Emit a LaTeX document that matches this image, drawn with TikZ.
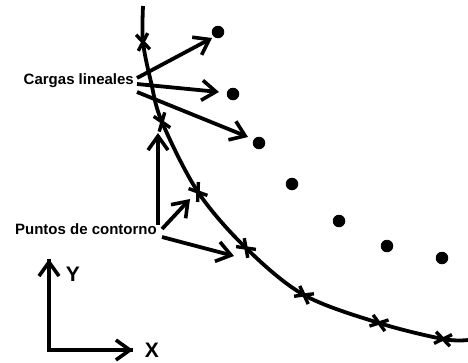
\documentclass[tikz,border=0pt]{standalone}
\usepackage{fontspec}
\setmainfont{Liberation Sans}
\usetikzlibrary{arrows.meta}
\tikzset{
  thickline/.style={line width=3.8pt},
  arr/.style={thickline,-{Straight Barb[length=14pt,width=20pt,line width=3.6pt]}},
  charge/.style={circle,fill=black,inner sep=0pt,minimum size=12.5pt},
  lbl/.style={font=\bfseries\fontsize{15}{17}\selectfont,inner sep=0pt},
  axlbl/.style={font=\bfseries\fontsize{21}{23}\selectfont,inner sep=0pt},
  crossmark/.style={line width=3.4pt}
}
\newcommand\crossmk[2]{%
  \draw[crossmark] (#1) ++(#2+36:10) -- ++(#2+216:20);
  \draw[crossmark] (#1) ++(#2-36:10) -- ++(#2+144:20);
}
\begin{document}
\begin{tikzpicture}[x=1pt,y=-1pt]
\useasboundingbox (0,0) rectangle (468,362);
% boundary curve
\coordinate (p1) at (143,42);
\coordinate (p2) at (162,122);
\coordinate (p3) at (198,192);
\coordinate (p4) at (246,248);
\coordinate (p5) at (304,295);
\coordinate (p6) at (379,323);
\coordinate (p7) at (443,339);
\draw[thickline] plot[smooth,tension=0.55] coordinates {(143,6) (143,42) (151,82) (162,122) (198,192) (246,248) (304,295) (379,323) (443,339) (468,340)};
\crossmk{p1}{82}
\crossmk{p2}{70}
\crossmk{p3}{56}
\crossmk{p4}{44}
\crossmk{p5}{29}
\crossmk{p6}{18}
\crossmk{p7}{10}
% line charges
\node[charge] (q1) at (218,32) {};
\node[charge] (q2) at (233,94) {};
\node[charge] (q3) at (259,143) {};
\node[charge] (q4) at (292,184) {};
\node[charge] (q5) at (339,221) {};
\node[charge] (q6) at (387,246) {};
\node[charge] (q7) at (442,258) {};
% labels
\node[lbl,anchor=east] (cl) at (134,81) {Cargas lineales};
\node[lbl,anchor=east] (pc) at (157,229) {Puntos de contorno};
\coordinate (t1) at (212,38);
\coordinate (t2) at (219,92);
\coordinate (t3) at (248,137);
\draw[arr] ([xshift=3pt,yshift=3pt]cl.east) -- (t1);
\draw[arr] ([xshift=3pt,yshift=-3pt]cl.east) -- (t2);
\draw[arr] ([xshift=3pt,yshift=-11pt]cl.east) -- (t3);
\coordinate (s1) at (158,225);
\coordinate (u1) at (158,133);
\coordinate (u2) at (190,199);
\coordinate (u3) at (234,256);
\draw[arr] (s1) -- (u1);
\draw[arr] ([xshift=5pt]pc.east) -- (u2);
\draw[arr] ([xshift=5pt,yshift=-8pt]pc.east) -- (u3);
% axes
\coordinate (o) at (49,350);
\coordinate (ya) at (49,259);
\coordinate (xa) at (133,350);
\draw[thickline] (ya) -- (o) -- (xa);
\draw[arr] (o) -- (ya);
\draw[arr] (o) -- (xa);
\node[axlbl] (ly) at (73,274) {Y};
\node[axlbl] (lx) at (152,350) {X};
\end{tikzpicture}
\end{document}
